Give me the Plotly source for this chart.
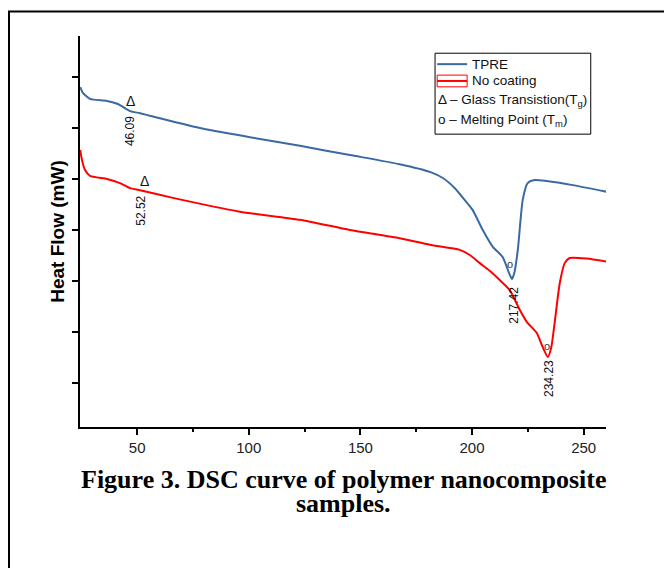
import plotly.graph_objects as go

# ---------------- data ----------------
tpre_temp = [24.5, 25.7, 28.9, 36.5, 41.4, 46.8, 51.3, 55.7, 78.1, 100.5, 122.9, 145.3,
             167.6, 181.1, 186.9, 192.3, 196.7, 200.3, 204.8, 209.3, 213.7, 216.9, 217.9,
             218.9, 220.5, 222.7, 224.9, 228.1, 233.4, 245.1, 260.3]
tpre_flow = [6.80, 6.69, 6.57, 6.53, 6.47, 6.33, 6.29, 6.24, 6.00, 5.82, 5.65, 5.47,
             5.29, 5.14, 5.02, 4.82, 4.59, 4.39, 4.00, 3.67, 3.47, 3.12, 3.04,
             3.15, 3.61, 4.59, 4.92, 4.98, 4.96, 4.88, 4.75]

noc_temp = [24.5, 25.3, 26.6, 28.9, 36.5, 42.3, 46.8, 51.3, 66.0, 96.0, 122.9, 145.3,
            167.6, 181.1, 194.5, 199.0, 203.5, 207.9, 212.4, 216.9, 221.4, 224.5, 229.0,
            231.6, 234.0, 235.5, 237.0, 239.3, 241.5, 243.7, 251.3, 260.3]
noc_flow = [5.57, 5.37, 5.18, 5.06, 5.00, 4.92, 4.82, 4.78, 4.63, 4.36, 4.20, 4.00,
            3.84, 3.71, 3.61, 3.51, 3.35, 3.20, 3.02, 2.82, 2.43, 2.20, 1.98,
            1.71, 1.51, 1.70, 2.18, 2.96, 3.35, 3.45, 3.44, 3.38]

tg_labels = ["46.09", "52.52"]
tm_labels = ["217.42", "234.23"]
x_ticks = [50, 100, 150, 200, 250]
x_minor = [75, 125, 175, 225]
y_ticks = [1, 2, 3, 4, 5, 6, 7]

BLUE = "#3a6aa3"
RED = "#ff0000"
SANS = "Liberation Sans, Arial, sans-serif"
SERIF = "Liberation Serif, Times New Roman, serif"

fig = go.Figure()
fig.add_trace(go.Scatter(x=tpre_temp, y=tpre_flow, mode="lines", name="TPRE",
                         line=dict(color=BLUE, width=2, shape="spline", smoothing=0.6),
                         showlegend=False))
fig.add_trace(go.Scatter(x=noc_temp, y=noc_flow, mode="lines", name="No coating",
                         line=dict(color=RED, width=2, shape="spline", smoothing=0.6),
                         showlegend=False))

ann = []
# glass transition markers & labels
ann.append(dict(x=47.1, y=6.52, text="Δ", showarrow=False, font=dict(family=SANS, size=14, color="#111")))
ann.append(dict(x=46.8, y=5.94, text=tg_labels[0], textangle=-90, showarrow=False,
                font=dict(family=SANS, size=12, color="#111")))
ann.append(dict(x=53.2, y=4.97, text="Δ", showarrow=False, font=dict(family=SANS, size=14, color="#111")))
ann.append(dict(x=52.0, y=4.37, text=tg_labels[1], textangle=-90, showarrow=False,
                font=dict(family=SANS, size=12, color="#111")))
# melting markers & labels
ann.append(dict(x=217.2, y=3.33, text="o", showarrow=False, font=dict(family=SANS, size=11, color="#333")))
ann.append(dict(x=218.7, y=2.53, text=tm_labels[0], textangle=-90, showarrow=False,
                font=dict(family=SANS, size=12, color="#111")))
ann.append(dict(x=233.7, y=1.73, text="o", showarrow=False, font=dict(family=SANS, size=11, color="#333")))
ann.append(dict(x=234.5, y=1.08, text=tm_labels[1], textangle=-90, showarrow=False,
                font=dict(family=SANS, size=12, color="#111")))

# legend texts (paper coords)
lf = dict(family=SANS, size=13.5, color="#111")
ann.append(dict(xref="paper", yref="paper", x=0.741, y=0.928, text="TPRE", xanchor="left",
                yanchor="middle", showarrow=False, font=lf))
ann.append(dict(xref="paper", yref="paper", x=0.741, y=0.885, text="No coating", xanchor="left",
                yanchor="middle", showarrow=False, font=lf))
ann.append(dict(xref="paper", yref="paper", x=0.677, y=0.836, text="Δ – Glass Transistion(T<sub>g</sub>)",
                xanchor="left", yanchor="middle", showarrow=False, font=lf))
ann.append(dict(xref="paper", yref="paper", x=0.677, y=0.785, text="o – Melting Point (T<sub>m</sub>)",
                xanchor="left", yanchor="middle", showarrow=False, font=lf))

# caption
cf = dict(family=SERIF, size=26, color="#000")
ann.append(dict(xref="paper", yref="paper", x=0.501, y=-0.134, text="<b>Figure 3. DSC curve of polymer nanocomposite</b>",
                showarrow=False, font=cf, xanchor="center", yanchor="middle"))
ann.append(dict(xref="paper", yref="paper", x=0.501, y=-0.196, text="<b>samples.</b>",
                showarrow=False, font=cf, xanchor="center", yanchor="middle"))

shapes = [
    # outer frame
    dict(type="rect", xref="paper", yref="paper", x0=-0.1350, x1=1.3, y0=-0.6, y1=1.0627,
         line=dict(color="#000", width=2)),
    # legend box
    dict(type="rect", xref="paper", yref="paper", x0=0.675, x1=0.971, y0=0.749, y1=0.956,
         line=dict(color="#000", width=1)),
    dict(type="line", xref="paper", yref="paper", x0=0.679, x1=0.736, y0=0.928, y1=0.928,
         line=dict(color=BLUE, width=2)),
    dict(type="rect", xref="paper", yref="paper", x0=0.679, x1=0.736, y0=0.870, y1=0.900,
         line=dict(color=RED, width=1)),
    dict(type="line", xref="paper", yref="paper", x0=0.679, x1=0.736, y0=0.885, y1=0.885,
         line=dict(color=RED, width=2)),
]

fig.update_layout(
    width=664, height=560,
    margin=dict(l=72, r=66, t=28, b=141),
    paper_bgcolor="white", plot_bgcolor="white",
    annotations=ann, shapes=shapes,
    showlegend=False,
    font=dict(family=SANS, color="#111"),
)
fig.update_xaxes(range=[24.4, 260], tickvals=x_ticks, ticks="outside", ticklen=6, tickwidth=1.5,
                 tickcolor="#000", showline=True, linecolor="#000", linewidth=2, showgrid=False,
                 zeroline=False, tickfont=dict(family=SANS, size=15, color="#222"),
                 minor=dict(tickvals=x_minor, ticks="outside", ticklen=3,
                            tickwidth=1.5, tickcolor="#000"))
fig.update_yaxes(range=[0.137, 7.804], tickvals=y_ticks, ticks="outside", ticklen=6, tickwidth=1.5,
                 tickcolor="#000", showticklabels=False, showline=True, linecolor="#000",
                 linewidth=2, showgrid=False, zeroline=False,
                 title=dict(text="<b>Heat Flow (mW)</b>", font=dict(family=SANS, size=19, color="#000"),
                            standoff=2))

fig.write_html("out.html")
